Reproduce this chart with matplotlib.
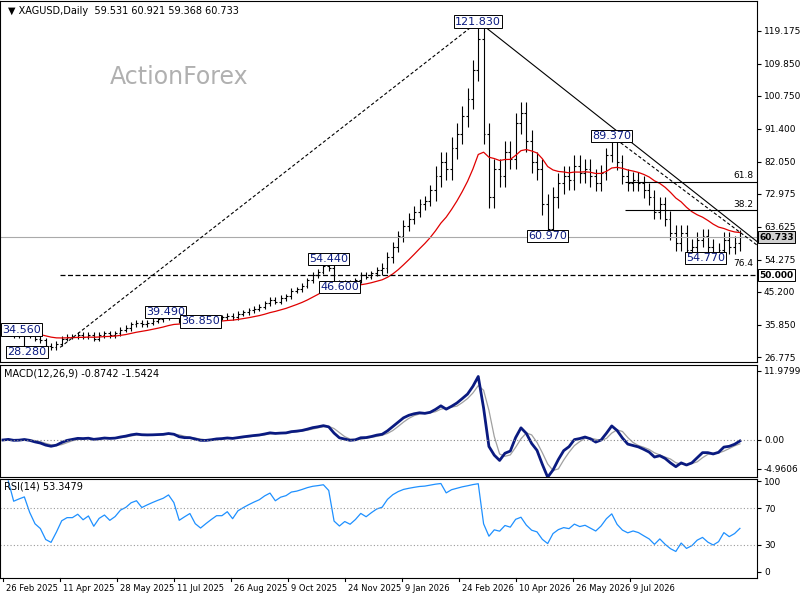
import numpy as np
import pandas as pd
import matplotlib
matplotlib.use("Agg")
import matplotlib.pyplot as plt

closes = [33.5, 34, 33, 33.5, 34, 33, 32, 31.5, 30, 29.5, 30.5,
          32, 32.5, 32.5, 33, 32.5, 33, 32, 33, 33.5, 33,
          33.5, 34.5, 35, 36, 36.5, 36, 36.5, 37, 37.5, 38,
          39, 38.5, 37, 37.5, 38, 37, 36.5, 37, 37.5, 38,
          38, 38.5, 38, 39, 39.5, 40, 40.5, 41, 42, 43,
          42.5, 43.5, 44, 45.5, 46, 47, 48.5, 50, 51, 52.5,
          52, 48, 47, 48, 47.5, 48.5, 50, 49.5, 50.5, 51.5,
          52, 55, 58, 61, 64, 66, 68, 70, 71, 74,
          78, 82, 80, 86, 90, 95, 100, 108, 117, 90,
          72, 80, 78, 85, 83, 93, 96, 88, 82, 80,
          70, 63, 72, 76, 78, 77, 81, 79, 80, 78,
          76, 79, 84, 88, 82, 78, 76, 77, 76, 74,
          72, 68, 70, 66, 62, 59, 62, 57, 58, 60,
          61, 58, 56, 57, 60, 58, 59, 60.733]
seg_range = [1.2]*71 + [2.5]*10 + [5]*30 + [3.5]*28
date_labels = ["26 Feb 2025", "11 Apr 2025", "28 May 2025", "11 Jul 2025", "26 Aug 2025",
               "9 Oct 2025", "24 Nov 2025", "9 Jan 2026", "24 Feb 2026", "10 Apr 2026",
               "26 May 2026", "9 Jul 2026"]
price_ticks = [26.775, 35.850, 45.200, 54.275, 63.625, 72.975, 82.050, 91.400, 100.750, 109.850, 119.175]
labels = [(3.4, 34.56, "34.560"), (4.5, 28.28, "28.280"), (30.5, 39.49, "39.490"), (37, 36.85, "36.850"),
          (61, 54.44, "54.440"), (63, 46.6, "46.600"), (89, 121.83, "121.830"), (102, 60.97, "60.970"),
          (114, 89.37, "89.370"), (131.5, 54.77, "54.770")]

c = np.array(closes); n = len(c); idx = np.arange(n)
o = np.r_[c[0], c[:-1]]
rg = np.array(seg_range)
hi = np.maximum(o, c) + rg*0.6
lo = np.minimum(o, c) - rg*0.6
hi[89] = 121.83; lo[4] = 28.28; hi[114] = 89.37; lo[102] = 60.97; lo[133] = 54.77
hi[61] = 54.44; lo[63] = 46.6

s = pd.Series(c)
ma = s.ewm(span=17, adjust=False).mean()
macd = s.ewm(span=4, adjust=False).mean() - s.ewm(span=9, adjust=False).mean()
sig = macd.rolling(3, min_periods=1).mean()
d = s.diff()
up = d.clip(lower=0).ewm(alpha=1/8, adjust=False).mean()
dn = (-d.clip(upper=0)).ewm(alpha=1/8, adjust=False).mean()
rsi = 100 - 100/(1+up/dn.replace(0, 1e-9))

W, H = 800, 600
fig = plt.figure(figsize=(8, 6), dpi=100)
def ax_px(x0, y0, x1, y1):
    return fig.add_axes([x0/W, 1-y1/H, (x1-x0)/W, (y1-y0)/H])
xl = (-0.56, 141.2)
ax = ax_px(0, 1, 757, 362)
am = ax_px(0, 365, 757, 477)
ar = ax_px(0, 479, 757, 578)
for a in (ax, am, ar):
    a.set_xlim(*xl)
    a.yaxis.tick_right()
    a.tick_params(axis='y', labelsize=6.5, length=3, pad=2)
    a.set_xticks([])
    for sp in a.spines.values():
        sp.set_color('black'); sp.set_linewidth(0.8)

ax.vlines(idx, lo, hi, color='black', lw=0.8)
ax.hlines(o, idx-0.35, idx, color='black', lw=0.8)
ax.hlines(c, idx, idx+0.35, color='black', lw=0.8)
ax.plot(idx, ma, color='#e00000', lw=0.9)
ax.set_ylim(25.36, 127.65)
ax.set_yticks(price_ticks)
ax.set_yticklabels([f"{v:.3f}" for v in price_ticks])
ax.axhline(c[-1], color='#aaaaaa', lw=0.8)
ax.hlines(50, 10.7, xl[1], color='black', lw=0.9, ls=(0, (4, 2)))
ax.plot([10.7, 89], [29.5, 121.83], color='black', lw=0.8, ls=(0, (3, 2)))
ax.plot([89, xl[1]], [121.83, 59.5], color='black', lw=0.8)
ax.plot([114, xl[1]], [89.37, 58.5], color='black', lw=0.8, ls=(0, (3, 2)))
ax.hlines(76.4, 116.5, xl[1], color='black', lw=0.8)
ax.hlines(68.3, 116.5, xl[1], color='black', lw=0.8)
for yv, t in [(76.9, "61.8"), (68.8, "38.2"), (52.0, "76.4")]:
    ax.text(140.5, yv, t, fontsize=6.5, ha='right', va='bottom')
for xi, yv, t in labels:
    ax.text(xi, yv, t, fontsize=8, color='#0a1a80', ha='center', va='center',
            bbox=dict(boxstyle='square,pad=0.1', fc='white', ec='black', lw=0.7))
for yv, t, fc in [(c[-1], "60.733", '#d0d0d0'), (50, "50.000", 'white')]:
    ax.text(1.003, yv, t, transform=ax.get_yaxis_transform(), fontsize=6.5, fontweight='bold',
            va='center', ha='left', bbox=dict(boxstyle='square,pad=0.15', fc=fc, ec='black', lw=0.7), clip_on=False)
ax.text(0.01, 0.985, "▼ XAGUSD,Daily  59.531 60.921 59.368 60.733", transform=ax.transAxes,
        fontsize=7, va='top')
ax.text(0.145, 0.77, "ActionForex", transform=ax.transAxes, fontsize=17, color='#b0b0b0', ha='left')

am.plot(idx, sig, color='#a0a0a0', lw=0.9)
am.plot(idx, macd, color='#0a1a80', lw=2)
am.axhline(0, color='#888888', lw=0.8, ls=(0, (1, 2)))
am.set_ylim(-6.42, 13.0)
am.set_yticks([11.9799, 0, -4.9606]); am.set_yticklabels(["11.9799", "0.00", "-4.9606"])
am.text(0.005, 0.97, "MACD(12,26,9) -0.8742 -1.5424", transform=am.transAxes, fontsize=7, va='top')

ar.plot(idx, rsi, color='#1e90ff', lw=0.9)
for lv in (70, 30):
    ar.axhline(lv, color='#999999', lw=0.8, ls=(0, (1, 2)))
ar.set_ylim(-6.6, 102.2)
ar.set_yticks([100, 70, 30, 0])
ar.text(0.005, 0.97, "RSI(14) 53.3479", transform=ar.transAxes, fontsize=7, va='top')

for k, t in enumerate(date_labels):
    xi = k*57/5.34
    ar.text(xi + 0.5, -0.06, t, transform=ar.get_xaxis_transform(), fontsize=6, ha='left', va='top')
    ar.plot([xi, xi], [0, -0.03], transform=ar.get_xaxis_transform(), color='black', lw=0.8, clip_on=False)

fig.savefig("out.png", dpi=100, facecolor='white')
